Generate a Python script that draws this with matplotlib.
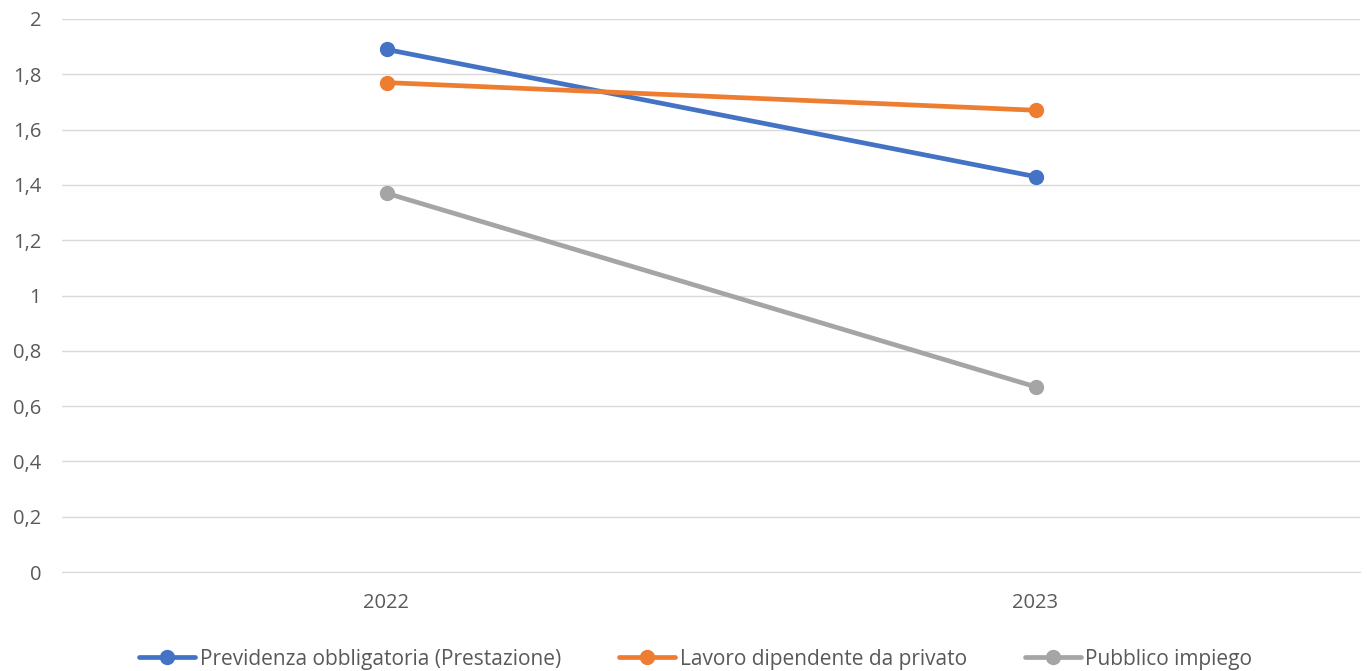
import matplotlib.pyplot as plt
from matplotlib.ticker import FuncFormatter

plt.rcParams["font.family"] = ["Open Sans", "DejaVu Sans"]

years = ["2022", "2023"]
previdenza = [1.89, 1.43]
lavoro_privato = [1.77, 1.67]
pubblico = [1.37, 0.67]

series = [
    ("Previdenza obbligatoria (Prestazione)", previdenza, "#4472C4"),
    ("Lavoro dipendente da privato", lavoro_privato, "#ED7D31"),
    ("Pubblico impiego", pubblico, "#A5A5A5"),
]

fig = plt.figure(figsize=(13.67, 6.71), dpi=100)
ax = fig.add_axes([62 / 1367, 99 / 671, 1298 / 1367, 553 / 671])

x = list(range(len(years)))
for label, values, color in series:
    ax.plot(x, values, color=color, lw=3.4, marker="o", markersize=10,
            solid_capstyle="round", label=label, zorder=3)

ax.set_xlim(-0.5, len(years) - 0.5)
ax.set_ylim(0, 2)
ax.set_yticks([i / 10 for i in range(0, 21, 2)])
ax.yaxis.set_major_formatter(FuncFormatter(lambda v, p: f"{v:g}".replace(".", ",")))
ax.set_xticks(x)
ax.set_xticklabels(years)
ax.grid(axis="y", color="#d9d9d9", lw=1)
ax.set_axisbelow(True)
for s in ["top", "right", "left"]:
    ax.spines[s].set_visible(False)
ax.spines["bottom"].set_color("#d9d9d9")
ax.tick_params(axis="both", length=0, labelsize=14.5, colors="#595959")
ax.tick_params(axis="y", pad=15)
ax.tick_params(axis="x", pad=15)

leg = fig.legend(loc="lower center", bbox_to_anchor=(0.509, -0.026), ncol=3, frameon=False,
                 fontsize=15, handlelength=2.7, columnspacing=2.8, handletextpad=0.2,
                 labelcolor="#595959")

fig.savefig("out.png", dpi=100)
